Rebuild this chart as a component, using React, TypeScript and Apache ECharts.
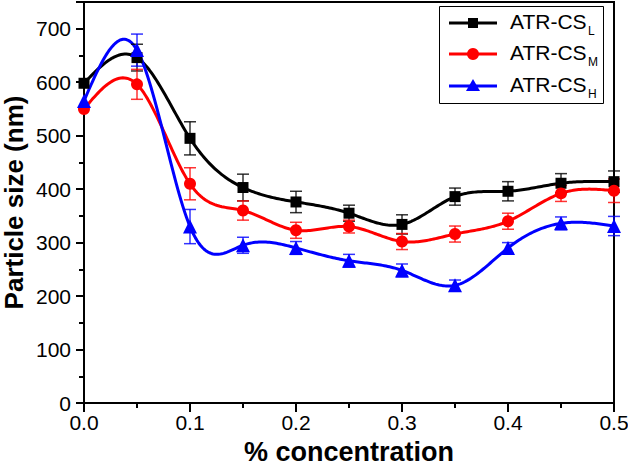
import React, { useEffect, useRef } from "react";
import * as echarts from "echarts";

// ---- data ----
const concentrations = [0, 0.05, 0.1, 0.15, 0.2, 0.25, 0.3, 0.35, 0.4, 0.45, 0.5];
const sizeL = [598, 646, 495, 403, 376, 355, 334, 386, 396, 411, 414];
const errL = [0, 25, 31, 25, 20, 15, 18, 16, 18, 18, 20];
const sizeM = [550, 596, 410, 360, 323, 330, 302, 316, 340, 392, 397];
const errM = [0, 28, 30, 18, 15, 12, 15, 15, 15, 15, 22];
const sizeH = [565, 660, 330, 295, 290, 266, 248, 220, 290, 336, 331];
const errH = [0, 30, 32, 15, 12, 12, 12, 10, 10, 12, 18];
const seriesBase = ["ATR-CS", "ATR-CS", "ATR-CS"];
const seriesSub = ["L", "M", "H"];
const yTicks = [0, 100, 200, 300, 400, 500, 600, 700];
const xTicks = [0, 0.1, 0.2, 0.3, 0.4, 0.5];

const COLORS = ["#000000", "#ff0000", "#0000ff"];
const SYMBOLS = ["rect", "circle", "triangle"];
const SYMBOL_SIZES = [11, 12, 14];
const FONT = "'Liberation Sans', Arial, Helvetica, sans-serif";

function naturalSpline(xs: number[], ys: number[]) {
  const n = xs.length;
  const M = new Array(n).fill(0);
  if (n < 3) return M;
  const a: number[] = [], b: number[] = [], c: number[] = [], d: number[] = [];
  for (let i = 1; i < n - 1; i++) {
    const h0 = xs[i] - xs[i - 1];
    const h1 = xs[i + 1] - xs[i];
    a.push(h0);
    b.push(2 * (h0 + h1));
    c.push(h1);
    d.push(6 * ((ys[i + 1] - ys[i]) / h1 - (ys[i] - ys[i - 1]) / h0));
  }
  const m = b.length;
  for (let i = 1; i < m; i++) {
    const w = a[i] / b[i - 1];
    b[i] -= w * c[i - 1];
    d[i] -= w * d[i - 1];
  }
  const sol = new Array(m).fill(0);
  sol[m - 1] = d[m - 1] / b[m - 1];
  for (let i = m - 2; i >= 0; i--) sol[i] = (d[i] - c[i] * sol[i + 1]) / b[i];
  for (let i = 0; i < m; i++) M[i + 1] = sol[i];
  return M;
}

function splineAt(xs: number[], ys: number[], M: number[], i: number, t: number) {
  const h = xs[i + 1] - xs[i];
  const A = (xs[i + 1] - t) / h;
  const B = (t - xs[i]) / h;
  return A * ys[i] + B * ys[i + 1] + ((A * A * A - A) * M[i] + (B * B * B - B) * M[i + 1]) * (h * h) / 6;
}

function curveSeries(ys: number[], color: string, name: string) {
  const xs = concentrations;
  const M = naturalSpline(xs, ys);
  return {
    type: "custom",
    name,
    silent: true,
    z: 2,
    data: xs.map((x, i) => [x, ys[i]]),
    encode: { x: 0, y: 1 },
    renderItem: (params: any, api: any) => {
      const i = params.dataIndex;
      if (i >= xs.length - 1) return { type: "group", children: [] };
      const pts: number[][] = [];
      const steps = 30;
      for (let k = 0; k <= steps; k++) {
        const t = xs[i] + ((xs[i + 1] - xs[i]) * k) / steps;
        pts.push(api.coord([t, splineAt(xs, ys, M, i, t)]));
      }
      return {
        type: "polyline",
        shape: { points: pts },
        style: { stroke: color, lineWidth: 3, fill: null, lineJoin: "round", lineCap: "round" },
      };
    },
  };
}

function errorSeries(ys: number[], errs: number[], color: string, name: string) {
  return {
    type: "custom",
    name,
    silent: true,
    z: 3,
    data: concentrations.map((x, i) => [x, ys[i], errs[i]]),
    encode: { x: 0, y: 1 },
    renderItem: (params: any, api: any) => {
      const x = api.value(0);
      const y = api.value(1);
      const e = api.value(2);
      if (!e) return { type: "group", children: [] };
      const top = api.coord([x, y + e]);
      const bot = api.coord([x, y - e]);
      const cw = 6;
      const st = { stroke: color, lineWidth: 1.5, opacity: 0.8 };
      return {
        type: "group",
        children: [
          { type: "line", shape: { x1: top[0], y1: top[1], x2: bot[0], y2: bot[1] }, style: st },
          { type: "line", shape: { x1: top[0] - cw, y1: top[1], x2: top[0] + cw, y2: top[1] }, style: st },
          { type: "line", shape: { x1: bot[0] - cw, y1: bot[1], x2: bot[0] + cw, y2: bot[1] }, style: st },
        ],
      };
    },
  };
}

function markerSeries(ys: number[], idx: number, name: string) {
  return {
    type: "scatter",
    name,
    z: 4,
    symbol: SYMBOLS[idx],
    symbolSize: SYMBOL_SIZES[idx],
    itemStyle: { color: COLORS[idx], opacity: 1 },
    data: concentrations.map((x, i) => [x, ys[i]]),
  };
}

function legendGraphic() {
  const rows = [23, 54, 86];
  const children: any[] = [
    {
      type: "rect",
      shape: { x: 439.5, y: 6.5, width: 164, height: 97 },
      style: { fill: "#fff", stroke: "#000", lineWidth: 1 },
    },
  ];
  rows.forEach((ry, i) => {
    children.push({
      type: "line",
      shape: { x1: 449, y1: ry, x2: 497, y2: ry },
      style: { stroke: COLORS[i], lineWidth: 3 },
    });
    if (i === 0) {
      children.push({ type: "rect", shape: { x: 468, y: ry - 5, width: 10, height: 10 }, style: { fill: COLORS[i] } });
    } else if (i === 1) {
      children.push({ type: "circle", shape: { cx: 473, cy: ry, r: 6 }, style: { fill: COLORS[i] } });
    } else {
      children.push({
        type: "polygon",
        shape: { points: [[473, ry - 7], [480, ry + 5], [466, ry + 5]] },
        style: { fill: COLORS[i] },
      });
    }
    children.push({
      type: "text",
      x: 510,
      y: ry - 2,
      style: {
        text: seriesBase[i],
        fontSize: 21,
        fontFamily: FONT,
        fill: "#000",
        verticalAlign: "middle",
        align: "left",
      },
    });
    children.push({
      type: "text",
      x: 588,
      y: ry + 8,
      style: {
        text: seriesSub[i],
        fontSize: 12,
        fontFamily: FONT,
        fill: "#000",
        verticalAlign: "middle",
        align: "left",
      },
    });
  });
  return [{ type: "group", z: 100, children }];
}

export default function App() {
  const ref = useRef<HTMLDivElement>(null);
  useEffect(() => {
    if (!ref.current) return;
    const chart = echarts.init(ref.current, null, { renderer: "svg" });
    const names = seriesBase.map((b, i) => b + seriesSub[i]);
    const sets = [
      [sizeL, errL],
      [sizeM, errM],
      [sizeH, errH],
    ];
    const series: any[] = [];
    sets.forEach(([ys], i) => series.push(curveSeries(ys, COLORS[i], names[i])));
    sets.forEach(([ys, es], i) => series.push(errorSeries(ys, es, COLORS[i], names[i])));
    sets.forEach(([ys], i) => series.push(markerSeries(ys, i, names[i])));

    chart.setOption({
      animation: false,
      backgroundColor: "#ffffff",
      textStyle: { fontFamily: FONT },
      grid: {
        left: 84,
        right: 14,
        top: 2,
        bottom: 62,
        show: true,
        borderColor: "#000",
        borderWidth: 2,
        backgroundColor: "transparent",
        containLabel: false,
        outerBoundsMode: "none",
      },
      xAxis: {
        type: "value",
        min: xTicks[0],
        max: xTicks[xTicks.length - 1],
        interval: 0.1,
        name: "% concentration",
        nameLocation: "middle",
        nameGap: 35,
        nameMoveOverlap: false,
        nameTextStyle: { fontSize: 27, fontWeight: "bold", color: "#000", fontFamily: FONT },
        axisLine: { show: true, lineStyle: { color: "#000", width: 2 } },
        axisTick: { show: true, inside: false, length: 9, lineStyle: { color: "#000", width: 2 } },
        minorTick: { show: true, splitNumber: 2, length: 5, lineStyle: { color: "#000", width: 2 } },
        splitLine: { show: false },
        axisLabel: {
          color: "#000",
          fontSize: 21,
          margin: 9,
          fontFamily: FONT,
          formatter: (v: number) => v.toFixed(1),
        },
      },
      yAxis: {
        type: "value",
        min: yTicks[0],
        max: 750,
        interval: 100,
        name: "Particle size (nm)",
        nameLocation: "middle",
        nameGap: 57,
        nameMoveOverlap: false,
        nameTextStyle: { fontSize: 26, lineHeight: 26, fontWeight: "bold", color: "#000", fontFamily: FONT },
        axisLine: { show: true, lineStyle: { color: "#000", width: 2 } },
        axisTick: { show: true, inside: false, length: 8, lineStyle: { color: "#000", width: 2 } },
        minorTick: { show: true, splitNumber: 2, length: 5, lineStyle: { color: "#000", width: 2 } },
        splitLine: { show: false },
        axisLabel: {
          color: "#000",
          fontSize: 21,
          margin: 13,
          fontFamily: FONT,
          formatter: (v: number) => (yTicks.indexOf(v) >= 0 ? String(v) : ""),
        },
      },
      graphic: legendGraphic(),
      series,
    });
    return () => chart.dispose();
  }, []);
  return (
    <div
      ref={ref}
      style={{ position: "fixed", left: 0, top: 0, width: 628, height: 465, background: "#fff" }}
    />
  );
}
